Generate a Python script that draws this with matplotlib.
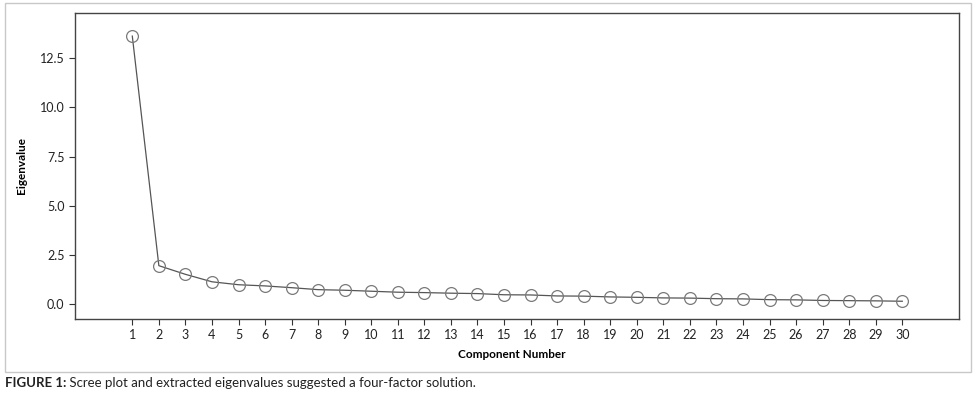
import numpy as np
import matplotlib.pyplot as plt
from matplotlib.patches import Rectangle

components = list(range(1, 31))
eigenvalues = [13.63, 1.95, 1.51, 1.13, 0.98, 0.92, 0.83, 0.73, 0.70, 0.65,
               0.60, 0.58, 0.55, 0.53, 0.47, 0.46, 0.41, 0.40, 0.36, 0.34,
               0.31, 0.30, 0.27, 0.26, 0.22, 0.21, 0.18, 0.17, 0.16, 0.14]
y_ticks = [0.0, 2.5, 5.0, 7.5, 10.0, 12.5]

plt.rcParams['font.family'] = ['Lato', 'DejaVu Sans']

W, H = 975, 398
fig = plt.figure(figsize=(W / 100, H / 100), dpi=100)

# outer frame around the chart
fig.patches.append(Rectangle((4.5 / W, 1 - 371.5 / H), 966 / W, 369 / H,
                             transform=fig.transFigure, fill=False,
                             edgecolor='#c8c8c8', linewidth=1.0))

ax = fig.add_axes([75 / W, 1 - 319 / H, (959 - 75) / W, (319 - 13) / H])

ax.plot(components, eigenvalues, color='#555555', linewidth=0.9,
        marker='o', markersize=8.5, markerfacecolor='none',
        markeredgecolor='#7a7a7a', markeredgewidth=0.9)

x0, x30 = 132.3, 902.3
px = (x30 - x0) / 29
ax.set_xlim(1 - (x0 - 75) / px, 30 + (959 - x30) / px)
zero, top_tick = 304, 58.3
py = (zero - top_tick) / 12.5
ax.set_ylim(-(319 - zero) / py, (zero - 13) / py)

ax.set_xticks(components)
ax.set_yticks(y_ticks)
ax.set_yticklabels([f"{v:.1f}" for v in y_ticks])
ax.tick_params(axis='both', labelsize=9, color='#333333', length=4,
               width=0.8, labelcolor='#222222')
for s in ax.spines.values():
    s.set_color('#444444')
    s.set_linewidth(1.0)

ax.set_ylabel("Eigenvalue", fontsize=8.5, fontweight='bold')
ax.set_xlabel("Component Number", fontsize=8.5, fontweight='bold')
ax.xaxis.set_label_coords((512 - 75) / (959 - 75), -(355 - 319) / (319 - 13))
ax.yaxis.set_label_coords(-(75 - 22) / (959 - 75), (319 - 166) / (319 - 13))
ax.xaxis.label.set_va('center')
ax.yaxis.label.set_va('center')

t = fig.text(5 / W, 1 - 383 / H, "FIGURE 1:", fontsize=9.5, fontweight='bold',
             va='center', color='#222222')
fig.canvas.draw()
ax.annotate(" Scree plot and extracted eigenvalues suggested a four-factor solution.",
            xy=(1, 0.5), xycoords=t, va='center', fontsize=9.5, color='#222222',
            annotation_clip=False)

fig.savefig("out.png", dpi=100)
